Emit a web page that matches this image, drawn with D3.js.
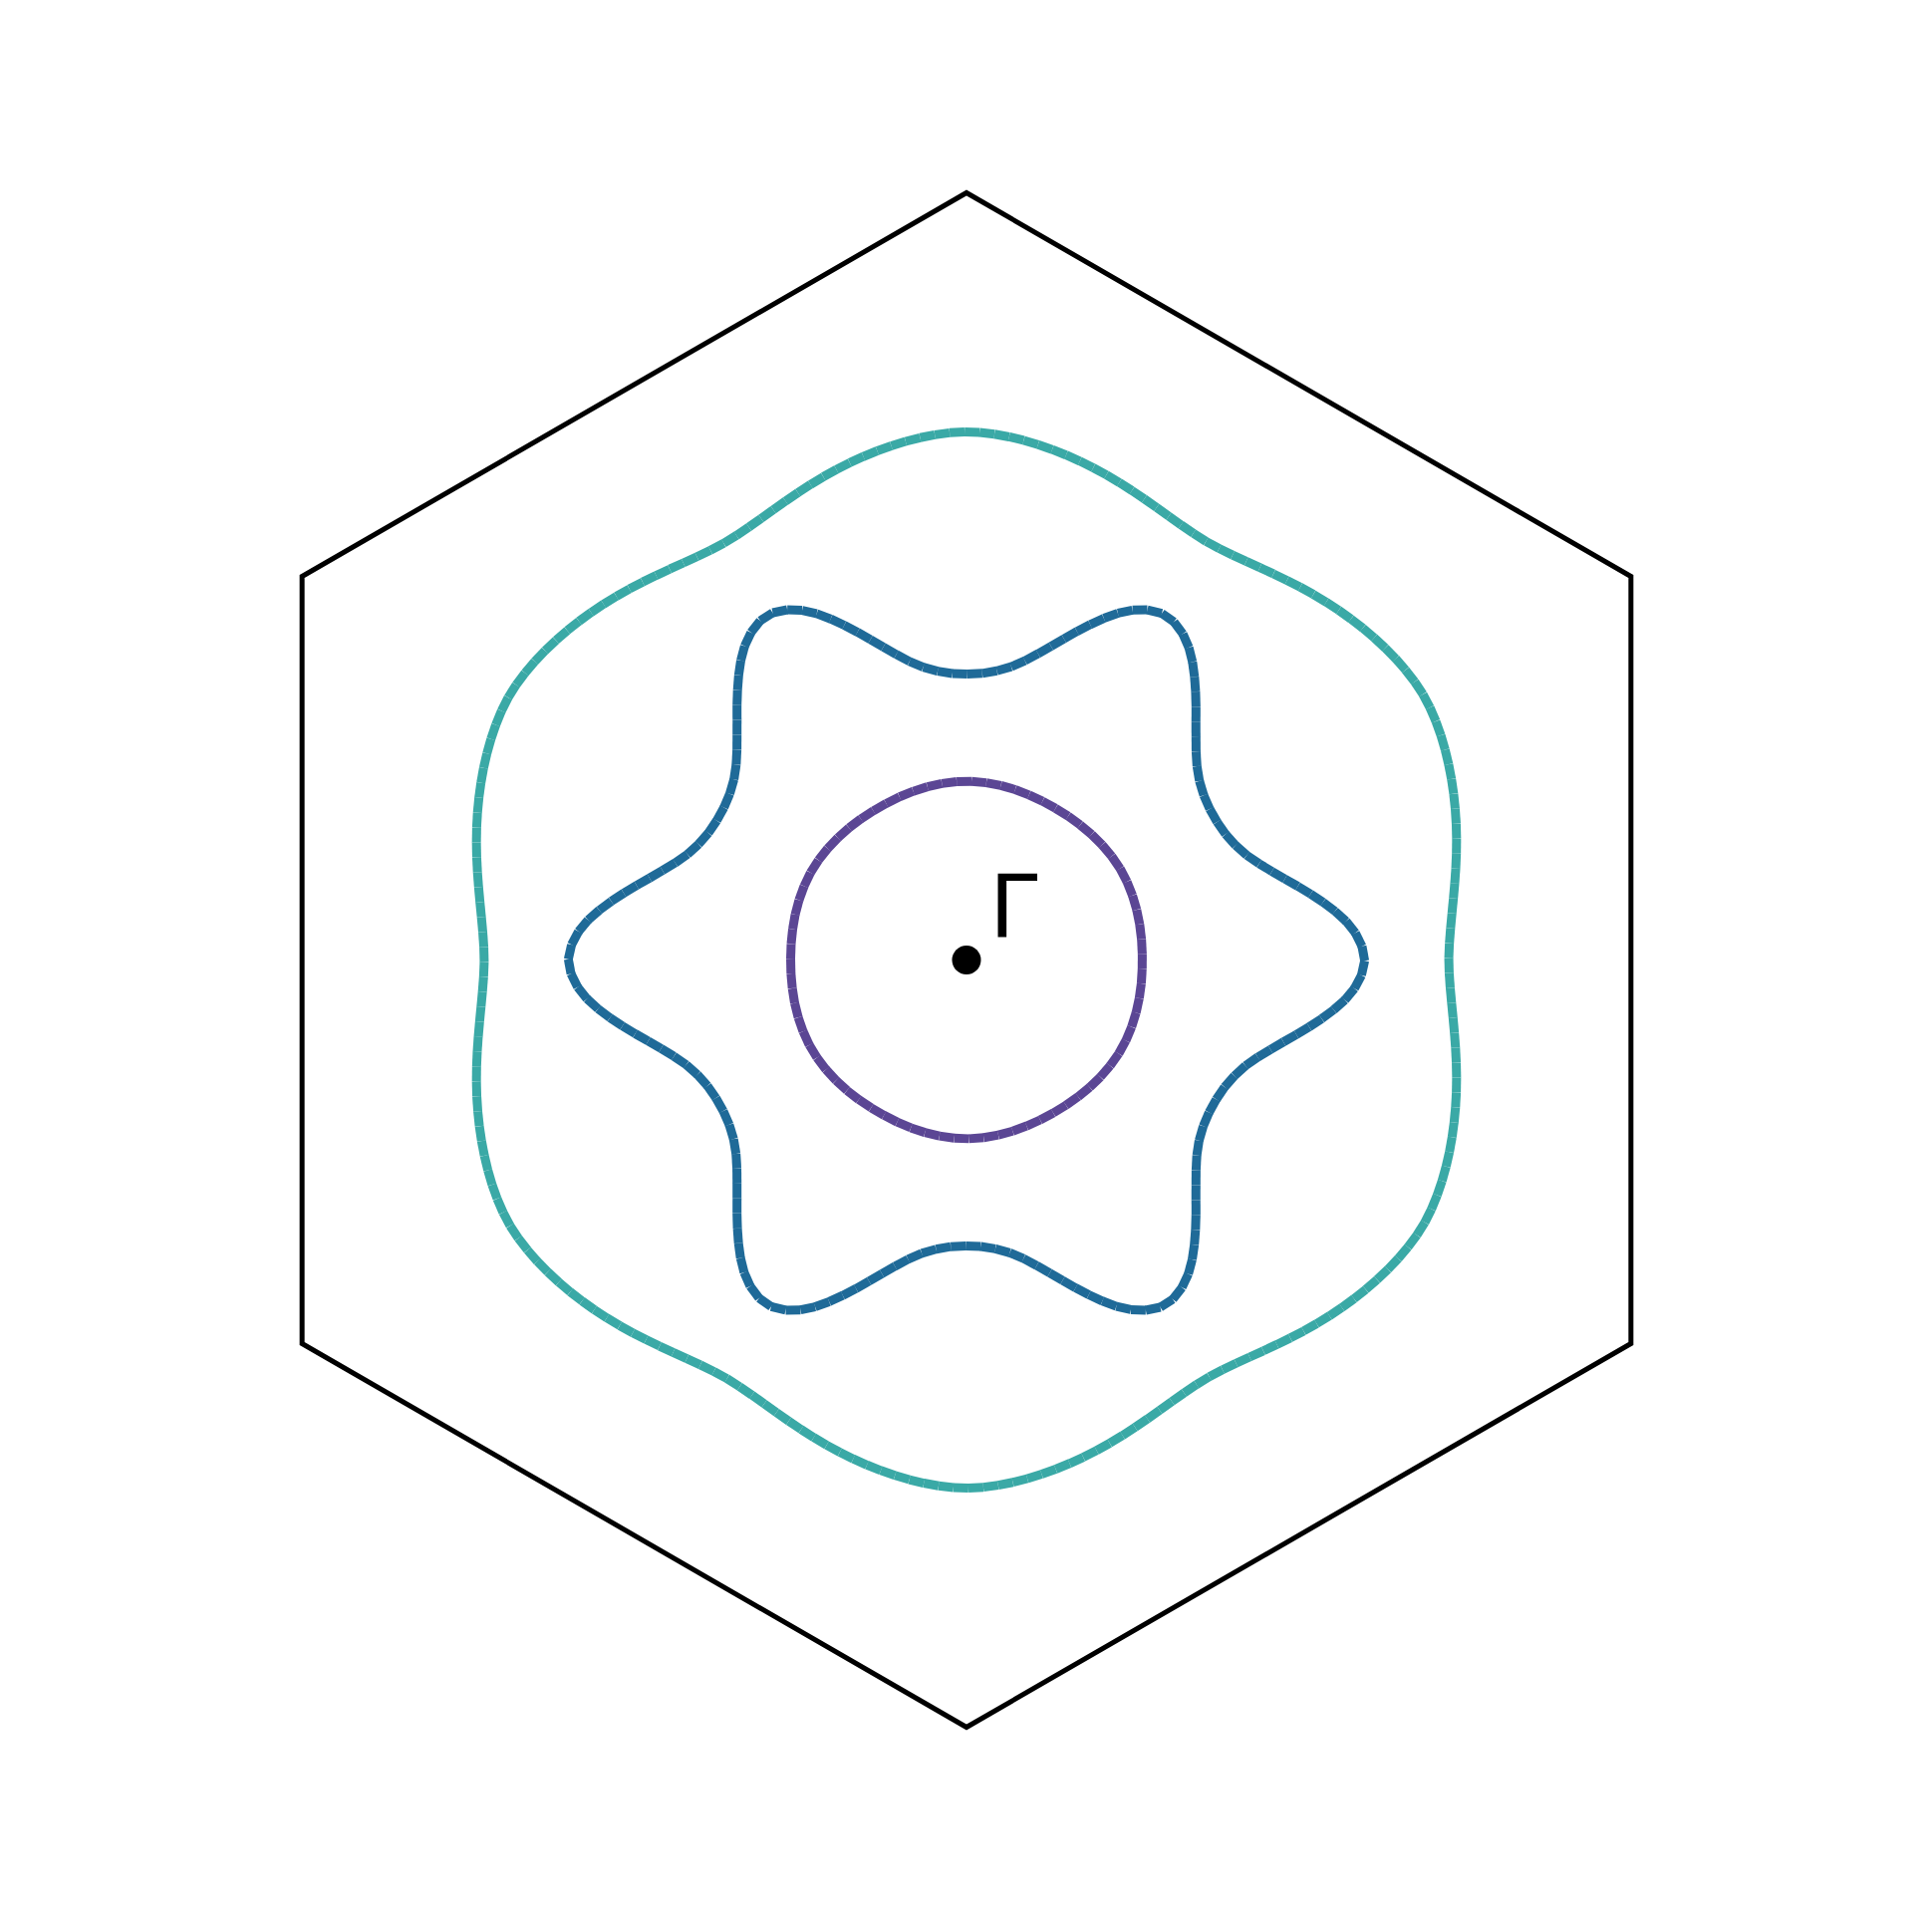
<!DOCTYPE html>
<html>
<head>
<meta charset="utf-8">
<script src="https://cdn.jsdelivr.net/npm/d3@7"></script>
<style>
  html, body { margin: 0; padding: 0; background: #ffffff; }
  svg { display: block; }
</style>
</head>
<body>
<div id="chart"></div>
<script>
// ---- Data (units: |ΓK| = 1) ----
// Brillouin-zone corners (K points), angle in degrees, radius in |ΓK|
const bzCornerAngles = [90, 30, -30, -90, -150, 150];
const bzCornerRadius = 1;

// Radial profile angles (degrees from Γ–M direction) over the irreducible 30° wedge
const wedgeAngles = [0, 2, 4, 6, 8, 10, 12, 14, 16, 18, 20, 22, 24, 26, 28, 30];

// Contour radii, in units of |ΓK|
const innerContour  = [0.2292, 0.2292, 0.2294, 0.2296, 0.2299, 0.2301, 0.2305, 0.2309,
                       0.2312, 0.2316, 0.2319, 0.2322, 0.2325, 0.2327, 0.2329, 0.2330];
const middleContour = [0.5190, 0.5158, 0.5080, 0.4962, 0.4808, 0.4640, 0.4470, 0.4305,
                       0.4158, 0.4028, 0.3922, 0.3843, 0.3790, 0.3752, 0.3733, 0.3727];
const outerContour  = [0.6286, 0.6298, 0.6327, 0.6368, 0.6417, 0.6471, 0.6527, 0.6583,
                       0.6637, 0.6688, 0.6736, 0.6780, 0.6819, 0.6851, 0.6874, 0.6884];

const contourNames  = ["inner", "middle", "outer"];
const contourColors = ["#5b4694", "#1f6a98", "#3aa9a6"];

const gammaPoint = [0, 0];
const gammaLabel = "Γ";

// ---- Layout ----
const W = 1939, H = 1928;
const cx = 970, cy = 963.5, R = 770;

const x = d3.scaleLinear().domain([-1, 1]).range([cx - R, cx + R]);
const y = d3.scaleLinear().domain([-1, 1]).range([cy + R, cy - R]);

const svg = d3.select("#chart").append("svg")
  .attr("width", W).attr("height", H);

// Brillouin zone hexagon
const hexPts = bzCornerAngles.map(a => {
  const t = a * Math.PI / 180;
  return [bzCornerRadius * Math.cos(t), bzCornerRadius * Math.sin(t)];
});
svg.append("path")
  .attr("d", d3.line().x(d => x(d[0])).y(d => y(d[1])).curve(d3.curveLinearClosed)(hexPts))
  .attr("fill", "none")
  .attr("stroke", "#000")
  .attr("stroke-width", 5)
  .attr("stroke-linejoin", "miter");

// Expand a wedge profile to the full circle with the six-fold + mirror symmetry
function expand(profile) {
  const step = wedgeAngles[1] - wedgeAngles[0];
  const pts = [];
  for (let a = 0; a < 360; a += step) {
    let m = a % 60;
    if (m > 30) m = 60 - m;
    const idx = wedgeAngles.indexOf(m);
    const r = profile[idx];
    const t = a * Math.PI / 180;
    pts.push([r * Math.cos(t), r * Math.sin(t)]);
  }
  return pts;
}

const contours = [innerContour, middleContour, outerContour];
const lineGen = d3.line().x(d => x(d[0])).y(d => y(d[1])).curve(d3.curveCatmullRomClosed.alpha(0.5));

contours.forEach((c, i) => {
  const g = svg.append("g").attr("class", "contour " + contourNames[i]);
  // hidden guide path, then drawn as short butt-capped pieces (segmented look)
  const guide = g.append("path")
    .attr("d", lineGen(expand(c)))
    .attr("fill", "none")
    .attr("stroke", "none");
  const node = guide.node();
  const L = node.getTotalLength();
  const n = Math.round(L / 15);
  const pts = d3.range(n + 1).map(k => node.getPointAtLength((k / n) * L));
  g.selectAll("line")
    .data(d3.range(n))
    .join("line")
    .attr("x1", k => pts[k].x).attr("y1", k => pts[k].y)
    .attr("x2", k => pts[k + 1].x).attr("y2", k => pts[k + 1].y)
    .attr("stroke", contourColors[i])
    .attr("stroke-width", 9)
    .attr("stroke-linecap", "butt");
});

// Γ point
svg.append("circle")
  .attr("cx", x(gammaPoint[0]))
  .attr("cy", y(gammaPoint[1]))
  .attr("r", 14.5)
  .attr("fill", "#000");

svg.append("text")
  .attr("x", x(gammaPoint[0]) + 23)
  .attr("y", y(gammaPoint[1]) - 22.5)
  .attr("font-family", "DejaVu Sans")
  .attr("font-size", 87)
  .attr("fill", "#000")
  .text(gammaLabel);
</script>
</body>
</html>
